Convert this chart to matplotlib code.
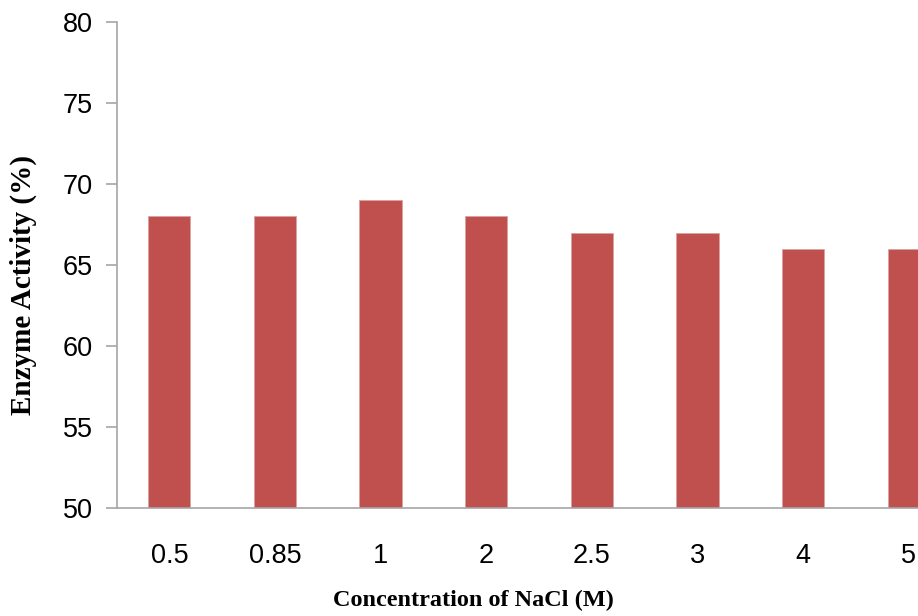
import matplotlib
matplotlib.use("Agg")
import matplotlib.pyplot as plt

# data
concentrations = ["0.5", "0.85", "1", "2", "2.5", "3", "4", "5"]
activity = [68, 68, 69, 68, 67, 67, 66, 66]

bar_color = "#C0504D"
axis_color = "#A6A6A6"

fig = plt.figure(figsize=(9.18, 6.16), dpi=100)
# axes runs past the right edge, as in the cropped original
ax = fig.add_axes([116.5 / 918, 108 / 616, 845 / 918, 486 / 616])

x = range(len(concentrations))
ax.bar(x, activity, width=0.4, color=bar_color, edgecolor="#D9A3A1", linewidth=0.6, zorder=2)

ax.set_xlim(-0.5, len(concentrations) - 0.5)
ax.set_ylim(50, 80)
ax.set_yticks(range(50, 81, 5))
ax.set_xticks(list(x))
ax.set_xticklabels(concentrations)

for s in ["top", "right"]:
    ax.spines[s].set_visible(False)
for s in ["left", "bottom"]:
    ax.spines[s].set_color(axis_color)
    ax.spines[s].set_linewidth(1.2)

ax.tick_params(axis="y", length=8, width=1.2, color=axis_color, pad=9,
               labelsize=19.5)
ax.tick_params(axis="x", length=0, pad=25, labelsize=19.5)
for lbl in ax.get_xticklabels() + ax.get_yticklabels():
    lbl.set_fontfamily("Liberation Sans")

fig.text(473 / 918, 1 - 600 / 616, "Concentration of NaCl (M)", ha="center", va="center",
         fontsize=17.5, fontweight="bold", family="Liberation Serif")
fig.text(23 / 918, 1 - 285 / 616, "Enzyme Activity (%)", ha="center", va="center",
         rotation=90, fontsize=21, fontweight="bold", family="Liberation Serif")

fig.savefig("out.png", dpi=100)
